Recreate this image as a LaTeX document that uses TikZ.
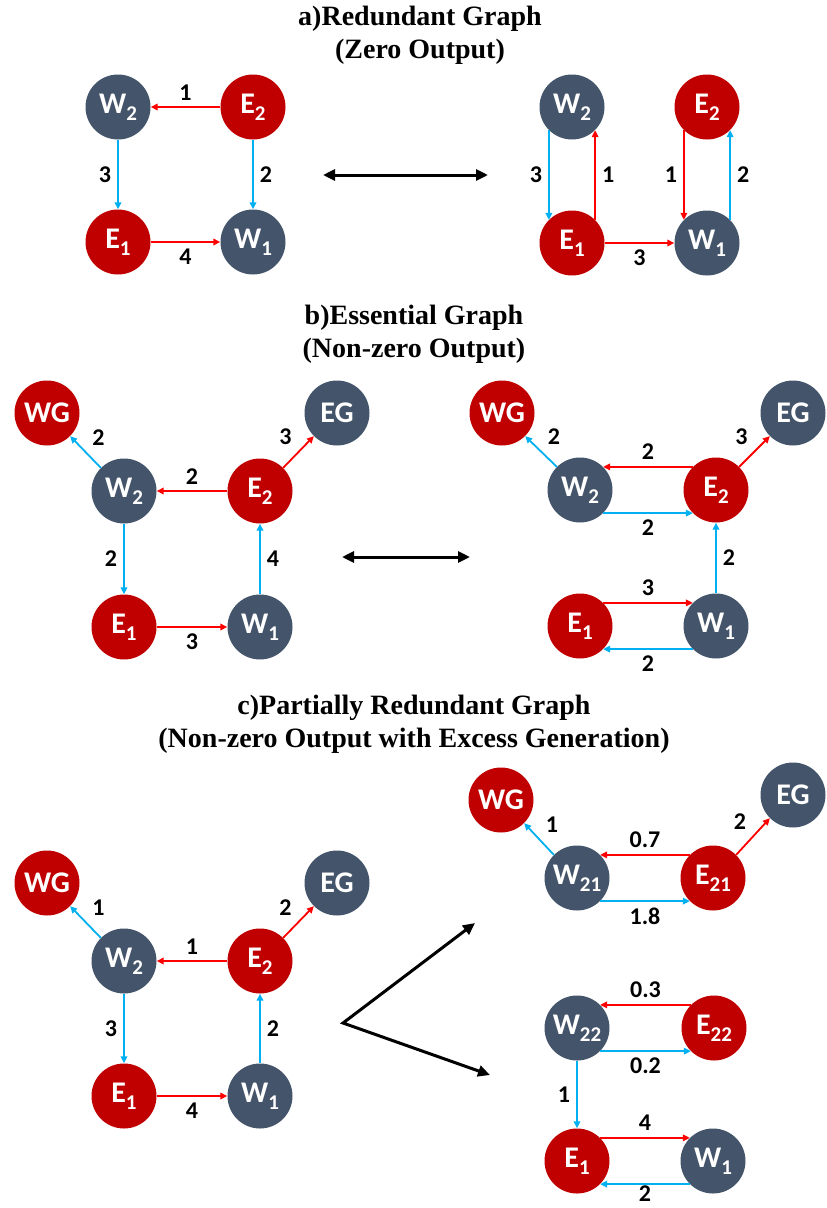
\documentclass[tikz,border=0pt]{standalone}
\usepackage{fontspec}
\setmainfont{Carlito}
\newfontfamily\titlefont{Liberation Serif}
\usetikzlibrary{arrows.meta, positioning}
\definecolor{busred}{HTML}{C00000}
\definecolor{busgray}{HTML}{44546A}
\definecolor{linered}{HTML}{FF0000}
\definecolor{lineblue}{HTML}{00B0F0}
\newcommand{\sub}[1]{\raisebox{-7pt}{\fontsize{21}{21}\selectfont #1}}

\begin{document}
\begin{tikzpicture}[
  x=1pt, y=-1pt,
  bus/.style={circle, minimum size=65pt, inner sep=0pt, text=white,
              font=\bfseries\fontsize{30}{30}\selectfont},
  wbus/.style={bus, fill=busgray},
  ebus/.style={bus, fill=busred},
  flow/.style={line width=1.8pt, -{Triangle[length=7pt,width=6.5pt]}},
  rflow/.style={flow, draw=linered},
  bflow/.style={flow, draw=lineblue},
  elabel/.style={font=\bfseries\fontsize{24}{24}\selectfont, inner sep=6pt},
  title/.style={font=\titlefont\bfseries\fontsize{28}{33}\selectfont, align=center},
  bigarrow/.style={line width=3pt,
                   {Triangle[length=12pt,width=11pt]}-{Triangle[length=12pt,width=11pt]}},
]
\path[use as bounding box] (0,0) rectangle (827,1208);

%% a) redundant graph
\node[title] (aTitle) at (420,35) {a)Redundant Graph\\(Zero Output)};
\node[wbus] (aW2) at (118,107) {W\sub{2}};
\node[ebus] (aE2) at (253,107) {E\sub{2}};
\node[ebus] (aE1) at (118,242) {E\sub{1}};
\node[wbus] (aW1) at (253,242) {W\sub{1}};
\node[wbus] (arW2) at (572,107) {W\sub{2}};
\node[ebus] (arE2) at (707,107) {E\sub{2}};
\node[ebus] (arE1) at (572,243) {E\sub{1}};
\node[wbus] (arW1) at (707,243) {W\sub{1}};
\coordinate (aSwapL) at (323,175);
\coordinate (aSwapR) at (488,175);

\draw[rflow] (aE2) -- node[elabel, above] {1} (aW2);
\draw[bflow] (aW2) -- node[elabel, left] {3} (aE1);
\draw[bflow] (aE2) -- node[elabel, right] {2} (aW1);
\draw[rflow] (aE1) -- node[elabel, below] {4} (aW1);
\draw[bigarrow] (aSwapL) -- (aSwapR);
\draw[bflow] (arW2.-135) -- node[elabel, left] {3} (arE1.135);
\draw[rflow] (arE1.45) -- node[elabel, right] {1} (arW2.-45);
\draw[rflow] (arE2.-135) -- node[elabel, left] {1} (arW1.135);
\draw[bflow] (arW1.45) -- node[elabel, right] {2} (arE2.-45);
\draw[rflow] (arE1) -- node[elabel, below] {3} (arW1);

%% b) essential graph
\node[title] (bTitle) at (414,334) {b)Essential Graph\\(Non-zero Output)};
\node[ebus] (bWG) at (47,413)  {WG};
\node[wbus] (bEG) at (337,413) {EG};
\node[wbus] (bW2) at (124,491) {W\sub{2}};
\node[ebus] (bE2) at (260,491) {E\sub{2}};
\node[ebus] (bE1) at (124,627) {E\sub{1}};
\node[wbus] (bW1) at (260,627) {W\sub{1}};
\node[ebus] (brWG) at (502,413) {WG};
\node[wbus] (brEG) at (793,413) {EG};
\node[wbus] (brW2) at (580,490) {W\sub{2}};
\node[ebus] (brE2) at (716,490) {E\sub{2}};
\node[ebus] (brE1) at (580,626) {E\sub{1}};
\node[wbus] (brW1) at (716,626) {W\sub{1}};
\coordinate (bSwapL) at (342,557);
\coordinate (bSwapR) at (470,557);

\draw[bflow] (bW2.135) -- node[elabel, above right] {2} (bWG.-45);
\draw[rflow] (bE2.45) -- node[elabel, above left] {3} (bEG.-135);
\draw[rflow] (bE2) -- node[elabel, above] {2} (bW2);
\draw[bflow] (bW2) -- node[elabel, left] {2} (bE1);
\draw[bflow] (bW1) -- node[elabel, right] {4} (bE2);
\draw[rflow] (bE1) -- node[elabel, below] {3} (bW1);
\draw[bigarrow] (bSwapL) -- (bSwapR);
\draw[bflow] (brW2.135) -- node[elabel, above right] {2} (brWG.-45);
\draw[rflow] (brE2.45) -- node[elabel, above left] {3} (brEG.-135);
\draw[rflow] (brE2.135) -- node[elabel, above] {2} (brW2.45);
\draw[bflow] (brW2.-45) -- node[elabel, below] {2} (brE2.-135);
\draw[bflow] (brW1) -- node[elabel, right] {2} (brE2);
\draw[rflow] (brE1.45) -- node[elabel, above] {3} (brW1.135);
\draw[bflow] (brW1.-135) -- node[elabel, below] {2} (brE1.-45);

%% c) partially redundant graph
\node[title] (cTitle) at (414,724) {c)Partially Redundant Graph\\(Non-zero Output with Excess Generation)};
\node[ebus] (cWG) at (47,883)  {WG};
\node[wbus] (cEG) at (337,883) {EG};
\node[wbus] (cW2) at (124,961) {W\sub{2}};
\node[ebus] (cE2) at (260,961) {E\sub{2}};
\node[ebus] (cE1) at (124,1096) {E\sub{1}};
\node[wbus] (cW1) at (260,1096) {W\sub{1}};
\node[ebus] (crWG) at (501,800) {WG};
\node[wbus] (crEG) at (793,795) {EG};
\node[wbus] (crW21) at (577,878) {W\sub{21}};
\node[ebus] (crE21) at (713,878) {E\sub{21}};
\node[wbus] (crW22) at (577,1028) {W\sub{22}};
\node[ebus] (crE22) at (714,1028) {E\sub{22}};
\node[ebus] (crE1) at (577,1161) {E\sub{1}};
\node[wbus] (crW1) at (713,1161) {W\sub{1}};
\coordinate (cFork) at (343,1023);
\coordinate (cSplitUp) at (475,923);
\coordinate (cSplitLow) at (490,1075);

\draw[bflow] (cW2.135) -- node[elabel, above right] {1} (cWG.-45);
\draw[rflow] (cE2.45) -- node[elabel, above left] {2} (cEG.-135);
\draw[rflow] (cE2) -- node[elabel, above] {1} (cW2);
\draw[bflow] (cW2) -- node[elabel, left] {3} (cE1);
\draw[bflow] (cW1) -- node[elabel, right] {2} (cE2);
\draw[rflow] (cE1) -- node[elabel, below] {4} (cW1);
\draw[bigarrow] (cSplitUp) -- (cFork) -- (cSplitLow);
\draw[bflow] (crW21.135) -- node[elabel, above right] {1} (crWG.-45);
\draw[rflow] (crE21.45) -- node[elabel, above left] {2} (crEG.-135);
\draw[rflow] (crE21.135) -- node[elabel, above] {0.7} (crW21.45);
\draw[bflow] (crW21.-45) -- node[elabel, below] {1.8} (crE21.-135);
\draw[rflow] (crE22.135) -- node[elabel, above] {0.3} (crW22.45);
\draw[bflow] (crW22.-45) -- node[elabel, below] {0.2} (crE22.-135);
\draw[bflow] (crW22) -- node[elabel, left] {1} (crE1);
\draw[rflow] (crE1.45) -- node[elabel, above] {4} (crW1.135);
\draw[bflow] (crW1.-135) -- node[elabel, below, inner sep=0.5pt] {2} (crE1.-45);
\end{tikzpicture}
\end{document}
